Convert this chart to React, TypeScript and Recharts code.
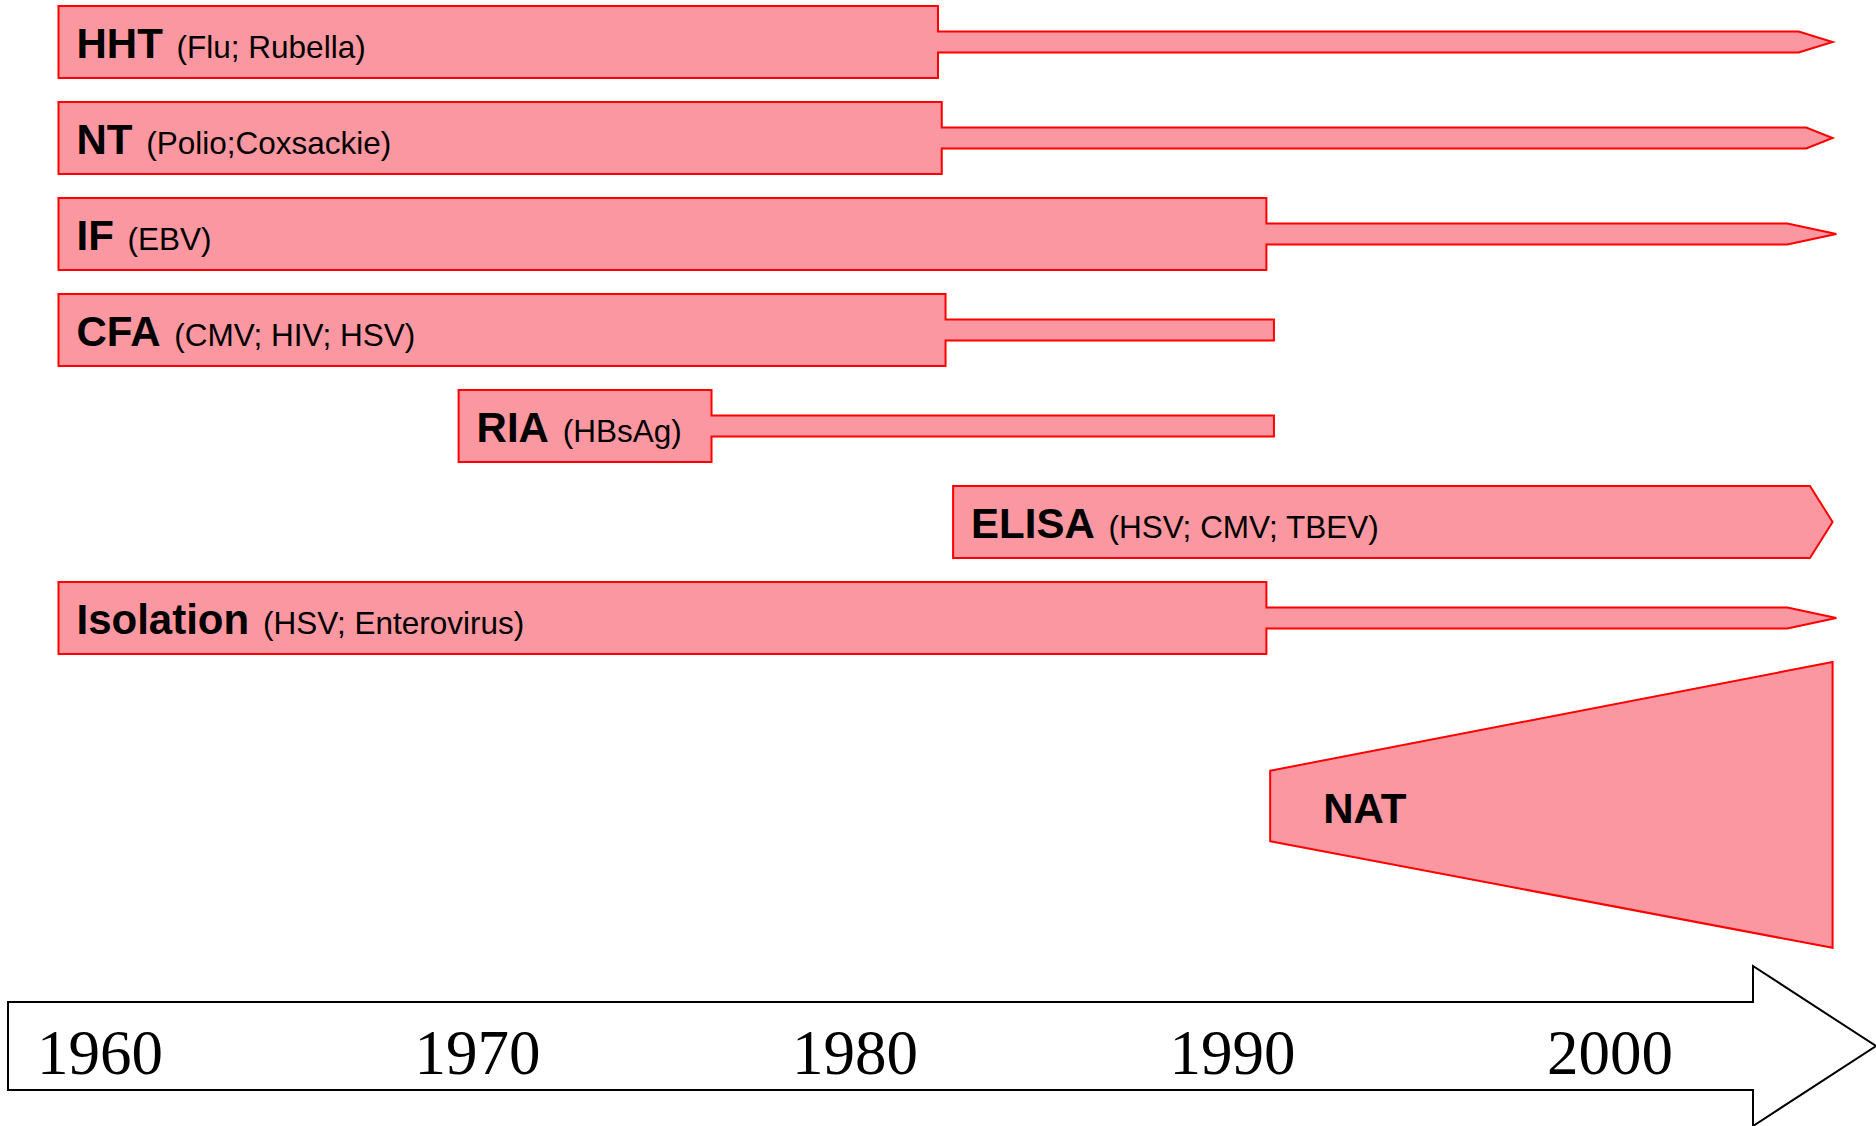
import { ComposedChart, Bar, XAxis, YAxis } from "recharts";

// diagnostic methods, top to bottom
const methods = ["HHT", "NT", "IF", "CFA", "RIA", "ELISA", "Isolation"];
const targets = [
  "(Flu; Rubella)",
  "(Polio;Coxsackie)",
  "(EBV)",
  "(CMV; HIV; HSV)",
  "(HBsAg)",
  "(HSV; CMV; TBEV)",
  "(HSV; Enterovirus)",
];

// years
const startYear = [1958.9, 1958.9, 1958.9, 1958.9, 1969.5, 1982.6, 1958.9];
const peakEndYear = [1982.2, 1982.3, 1990.9, 1982.4, 1976.2, 2005.3, 1990.9];
const tailEndYear = [2005.0, 2005.2, 2004.7, 1991.1, 1991.1, 2005.3, 2004.7];
const tipYear = [2005.9, 2005.9, 2006.0, 1991.1, 1991.1, 2005.9, 2006.0];

const natYears = [1991.0, 2005.9];
const yearTicks = [1960, 1970, 1980, 1990, 2000];

const FILL = "#fb97a0";
const EDGE = "#ff0000";
const SANS = "'Liberation Sans', Arial, sans-serif";

const rows = methods.map((name, i) => ({
  name,
  kind: "method",
  sub: targets[i],
  range: [startYear[i], tipYear[i]],
  start: startYear[i],
  peakEnd: peakEndYear[i],
  tailEnd: tailEndYear[i],
  tip: tipYear[i],
}));

const data = [
  ...rows,
  { name: " ", kind: "gap", range: null },
  { name: "NAT", kind: "nat", range: natYears },
];

function LaneShape(props: any) {
  const { x, y, width, height, payload } = props;
  if (!payload || payload.kind === "gap" || !width) return null;
  const cy = y + height / 2;

  if (payload.kind === "nat") {
    // the funnel sits a touch above its lane centre
    const c = cy - 4;
    const x1 = x + width;
    const pts = [
      [x, c - height * 0.49],
      [x1, c - height * 2.0],
      [x1, c + height * 1.97],
      [x, c + height * 0.49],
    ];
    return (
      <g>
        <polygon
          points={pts.map((p) => p.join(",")).join(" ")}
          fill={FILL}
          stroke={EDGE}
          strokeWidth={2}
        />
        <text x={x + 53} y={c + 17} fontFamily={SANS} fontWeight="bold" fontSize={42} fill="#000">
          NAT
        </text>
      </g>
    );
  }

  const ppy = width / (payload.tip - payload.start);
  const xb = x + (payload.peakEnd - payload.start) * ppy;
  const xl = x + (payload.tailEnd - payload.start) * ppy;
  const xt = x + width;
  const top = y;
  const bot = y + height;
  const noShaft = payload.peakEnd === payload.tailEnd;
  const st = noShaft ? top : cy - 10.5;
  const sb = noShaft ? bot : cy + 10.5;
  const pts = [
    [x, top],
    [xb, top],
    [xb, st],
    [xl, st],
    [xt, cy],
    [xl, sb],
    [xb, sb],
    [xb, bot],
    [x, bot],
  ];

  return (
    <g>
      <polygon
        points={pts.map((p) => p.join(",")).join(" ")}
        fill={FILL}
        stroke={EDGE}
        strokeWidth={2}
      />
      <text x={x + 18} y={cy + 16} fontFamily={SANS} fill="#000">
        <tspan fontWeight="bold" fontSize={42}>
          {payload.name}
        </tspan>
        <tspan fontSize={31.5} dx={5}>
          {" " + payload.sub}
        </tspan>
      </text>
    </g>
  );
}

function YearTick(props: any) {
  const { x, y, payload } = props;
  return (
    <text
      x={x}
      y={y + 216}
      textAnchor="middle"
      fontFamily="'Liberation Serif', 'Times New Roman', serif"
      fontSize={63}
      fill="#000"
    >
      {payload.value}
    </text>
  );
}

function TimelineArrow(props: any) {
  const vb = props.viewBox ?? { x: 0, y: 864, width: 1876, height: 268 };
  const { x, y, width, height } = vb;
  const left = x + 8;
  const right = x + width;
  const headX = right - 123;
  const cy = y + height - 80;
  const pts = [
    [left, cy - 44],
    [headX, cy - 44],
    [headX, cy - 80],
    [right, cy],
    [headX, cy + 80],
    [headX, cy + 44],
    [left, cy + 44],
  ];
  return (
    <polygon
      points={pts.map((p) => p.join(",")).join(" ")}
      fill="none"
      stroke="#000"
      strokeWidth={2}
    />
  );
}

export default function App() {
  return (
    <div style={{ position: "absolute", left: 0, top: -6, background: "#fff" }}>
      <ComposedChart
        width={1876}
        height={1132}
        layout="vertical"
        data={data}
        margin={{ top: 0, right: 0, bottom: 0, left: 0 }}
        barCategoryGap={12}
      >
        <XAxis
          type="number"
          domain={[1957.35, 2007.05]}
          ticks={yearTicks}
          interval={0}
          tick={<YearTick />}
          tickLine={false}
          axisLine={false}
          tickSize={0}
          tickMargin={0}
          height={268}
          label={{ content: (p: any) => <TimelineArrow {...p} /> }}
        />
        <YAxis type="category" dataKey="name" hide />
        <Bar dataKey="range" shape={(p: any) => <LaneShape {...p} />} isAnimationActive={false} />
      </ComposedChart>
    </div>
  );
}
